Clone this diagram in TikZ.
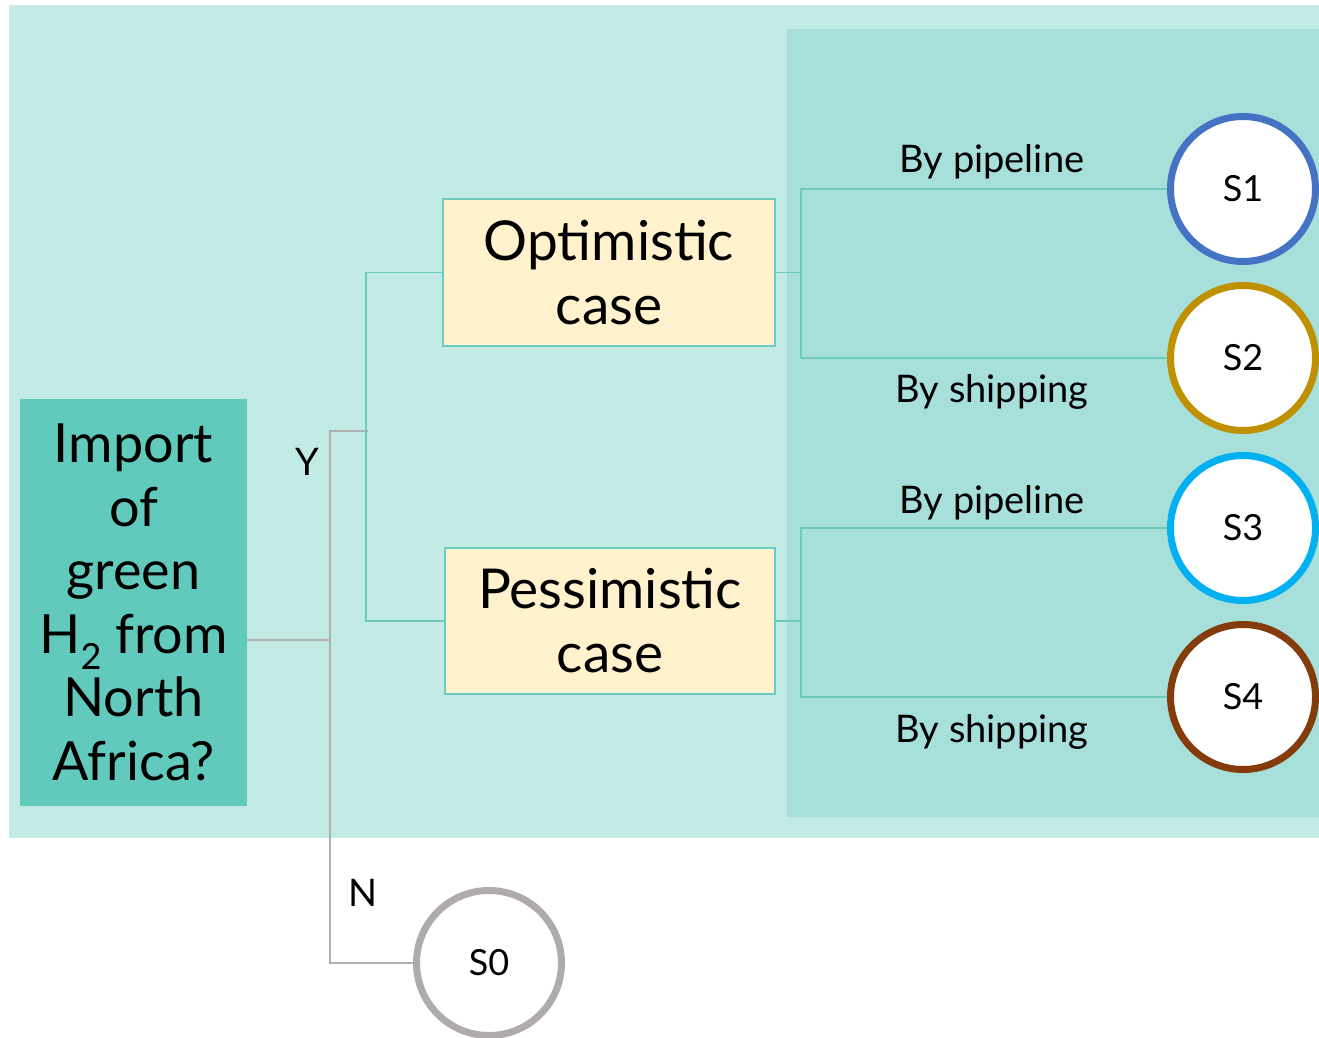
\documentclass[tikz,border=0pt]{standalone}
\usepackage{fontspec}
\setmainfont{Lato}
\definecolor{bgouter}{HTML}{C2EBE5}
\definecolor{bginner}{HTML}{A7E0DA}
\definecolor{impfill}{HTML}{62CABD}
\definecolor{cream}{HTML}{FFF2CC}
\definecolor{tealline}{HTML}{6ACBBE}
\definecolor{grayline}{HTML}{B0B0B0}
\definecolor{cS1}{HTML}{4472C4}
\definecolor{cS2}{HTML}{BF9000}
\definecolor{cS3}{HTML}{00B0F0}
\definecolor{cS4}{HTML}{843C0C}
\definecolor{cS0}{HTML}{AFABAB}
\begin{document}
\begin{tikzpicture}[x=1pt,y=-1pt,
  casebox/.style={draw=tealline, line width=2pt, fill=cream, align=center, inner sep=0pt,
    font=\fontsize{55}{64}\selectfont},
  impbox/.style={fill=impfill, align=center, inner sep=0pt, minimum width=227pt, minimum height=407pt,
    font=\fontsize{54}{63.5}\selectfont},
  scen/.style={circle, fill=white, line width=7pt, minimum size=145pt, inner sep=0pt,
    font=\fontsize{36}{40}\selectfont},
  lab/.style={font=\fontsize{38}{44}\selectfont, inner sep=0pt},
  yn/.style={font=\fontsize{38}{42}\selectfont, inner sep=0pt},
  tconn/.style={draw=tealline, line width=1.2pt},
  gconn/.style={draw=grayline, line width=1.2pt}]
\useasboundingbox (0,0) rectangle (1319,1038);
\fill[bgouter] (9,5) rectangle (1319,838);
\fill[bginner] (787,29) rectangle (1319,817);

\node[impbox] (imp) at (133.5,602.5) {Import\\of\\green\\H\raisebox{-0.3em}{\fontsize{36}{36}\selectfont 2} from\\North\\Africa?};
\node[casebox, minimum width=332pt, minimum height=147pt] (opt) at (609,272.5) {Optimistic\\case};
\node[casebox, minimum width=330pt, minimum height=146pt] (pes) at (610,621) {Pessimistic\\case};

\node[scen, draw=cS1] (s1) at (1243,189) {S1};
\node[scen, draw=cS2] (s2) at (1243,358) {S2};
\node[scen, draw=cS3] (s3) at (1243,528) {S3};
\node[scen, draw=cS4] (s4) at (1243,697) {S4};
\node[scen, draw=cS0] (s0) at (489,963) {S0};

\coordinate (j) at (330,640);
\coordinate (yend) at (368,431);
\coordinate (tx) at (366,440);

\draw[gconn] (j -| imp.east) -- (j) |- (yend);
\draw[gconn] (j) |- (s0.west);
\draw[tconn] (opt.west) -| (tx) |- (pes.west);

\draw[tconn] (opt.east) -- ++(25,0) coordinate (b1);
\draw[tconn] (b1) |- (s1.west);
\draw[tconn] (b1) |- (s2.west);
\draw[tconn] (pes.east) -- ++(25,0) coordinate (b2);
\draw[tconn] (b2) |- (s3.west);
\draw[tconn] (b2) |- (s4.west);

\node[lab] (l1) at (992,162) {By pipeline};
\node[lab] (l2) at (992,392) {By shipping};
\node[lab] (l3) at (992,503) {By pipeline};
\node[lab] (l4) at (992,732) {By shipping};
\node[yn] (ylab) at (307,462) {Y};
\node[yn] (nlab) at (363,893) {N};
\end{tikzpicture}
\end{document}
